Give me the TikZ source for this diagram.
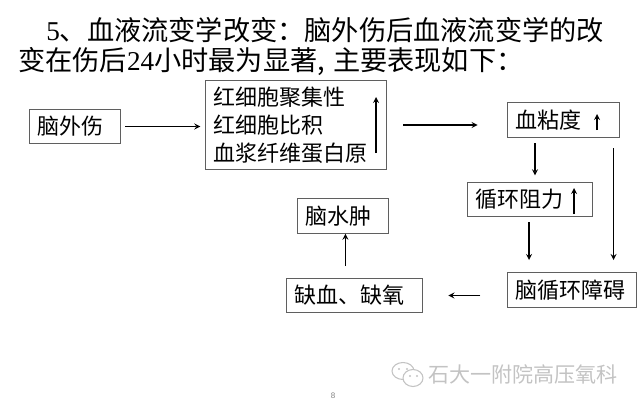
\documentclass[tikz,border=0pt]{standalone}
\usepackage{fontspec}
\setmainfont{Noto Sans CJK SC}
\newfontfamily\thinnum{Liberation Serif}
\newfontfamily\pagenum{Liberation Sans}
\definecolor{boxgray}{RGB}{95,95,95}
\definecolor{markgray}{RGB}{195,195,195}
\begin{document}
\begin{tikzpicture}[x=.75pt,y=-.75pt,>=stealth,
    box/.style={draw=boxgray,line width=.8pt,inner xsep=6pt,inner ysep=0pt,align=left,anchor=north west,font=\fontsize{16.5}{21}\selectfont},
    title/.style={anchor=west,inner sep=0pt,font=\fontsize{20.4}{24}\selectfont},
    flow/.style={->,line width=1pt}]
    \useasboundingbox (0,0) rectangle (640,407);
    % heading
    \node[title] (headone) at (46,30) {{\thinnum 5}、血液流变学改变：脑外伤后血液流变学的改};
    \node[title] (headtwo) at (18,62) {变在伤后{\thinnum 24}小时最为显著,\hspace{6pt}主要表现如下：};
    % boxes
    \node[box,text width=56pt,minimum height=25.5pt] (naowai) at (29,109) {脑外伤};
    \node[box,text width=124pt,minimum height=66.7pt] (hongxi) at (205,80) {红细胞聚集性\\红细胞比积\\血浆纤维蛋白原};
    \node[box,text width=72pt,minimum height=26pt] (xuenian) at (507,102) {血粘度};
    \node[box,text width=82pt,minimum height=25.5pt] (xunhuan) at (467,182) {循环阻力};
    \node[box,text width=85pt,minimum height=26pt] (naoxun) at (507,272) {脑循环障碍};
    \node[box,text width=90pt,minimum height=25.5pt] (quexue) at (286,278) {缺血、缺氧};
    \node[box,text width=56pt,minimum height=26pt] (shuizhong) at (297,198) {脑水肿};
    % connectors
    \draw[flow,shorten <=3.5pt,shorten >=3.5pt] (naowai.east) -- (naowai.east -| hongxi.west);
    \draw[flow,shorten <=12pt,shorten >=22pt] (hongxi.east) -- (hongxi.east -| xuenian.west);
    \draw[flow,shorten <=4pt,shorten >=5pt] ([xshift=-21.4pt]xuenian.south) -- ([xshift=-21.4pt]xuenian.south |- xunhuan.north);
    \draw[flow,shorten <=4pt,shorten >=9pt] ([xshift=-.9pt]xunhuan.south) -- ([xshift=-.9pt]xunhuan.south |- naoxun.north);
    \draw[flow,shorten <=8pt,shorten >=9pt] ([xshift=37.5pt]xuenian.south) -- ([xshift=37.5pt]xuenian.south |- naoxun.north);
    \draw[flow,shorten <=20pt,shorten >=19pt] (naoxun.west |- quexue.east) -- (quexue.east);
    \draw[flow,shorten <=9pt] ([xshift=1.9pt]shuizhong.south |- quexue.north) -- ([xshift=1.9pt]shuizhong.south);
    % small up arrows inside the boxes
    \coordinate (upa) at (376,153);
    \coordinate (upb) at (376,97);
    \coordinate (upc) at (597,130);
    \coordinate (upd) at (597,114);
    \coordinate (upe) at (574,214);
    \coordinate (upf) at (574,188);
    \draw[flow] (upa) -- (upb);
    \draw[flow] (upc) -- (upd);
    \draw[flow] (upe) -- (upf);
    % watermark
    \draw[markgray,line width=.8pt] (403,371) ellipse (11 and 8.5);
    \draw[markgray,line width=.8pt,fill=white] (413,378) ellipse (10 and 8.5);
    \fill[markgray] (399,369) circle (1.2) (407,369) circle (1.2) (410,376) circle (1.1) (417,376) circle (1.1);
    \node[inner sep=0pt,anchor=west,text=markgray,font=\fontsize{15.8}{18}\selectfont] (mark) at (428,374) {石大一附院高压氧科};
    \node[inner sep=0pt,text=gray,font=\pagenum\fontsize{6}{7}\selectfont] (pageno) at (333,396) {8};
\end{tikzpicture}
\end{document}
